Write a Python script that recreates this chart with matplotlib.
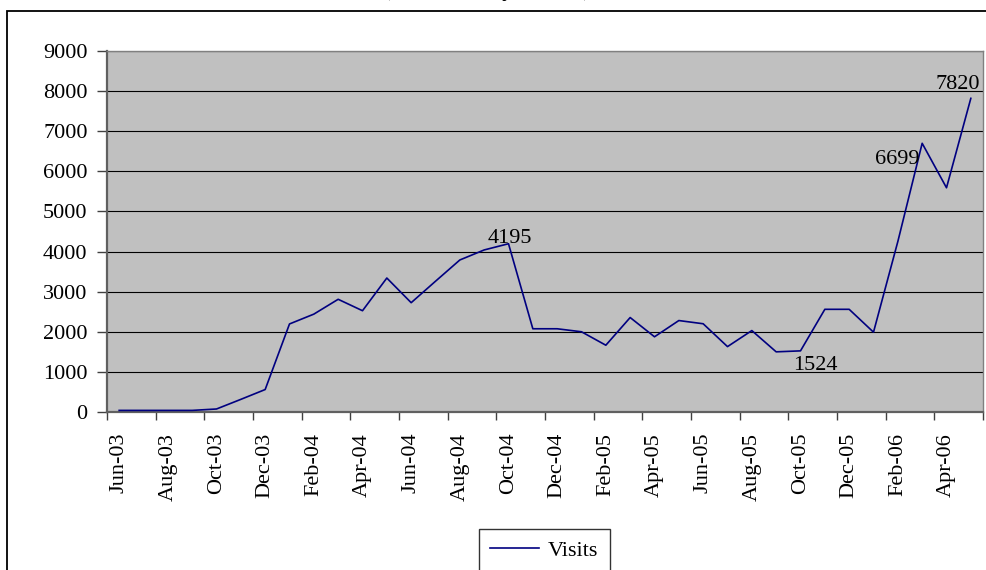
import matplotlib
matplotlib.use("Agg")
import matplotlib.pyplot as plt
from matplotlib.patches import Rectangle

months = ["Jun-03", "Jul-03", "Aug-03", "Sep-03", "Oct-03", "Nov-03", "Dec-03",
          "Jan-04", "Feb-04", "Mar-04", "Apr-04", "May-04", "Jun-04", "Jul-04",
          "Aug-04", "Sep-04", "Oct-04", "Nov-04", "Dec-04",
          "Jan-05", "Feb-05", "Mar-05", "Apr-05", "May-05", "Jun-05", "Jul-05",
          "Aug-05", "Sep-05", "Oct-05", "Nov-05", "Dec-05",
          "Jan-06", "Feb-06", "Mar-06", "Apr-06", "May-06"]
visits = [40, 40, 40, 40, 75, 315, 560,
          2195, 2440, 2810, 2525, 3340, 2725, 3260,
          3790, 4040, 4195, 2075, 2075,
          2000, 1665, 2355, 1875, 2280, 2200, 1630,
          2030, 1500, 1524, 2560, 2560,
          1990, 4250, 6699, 5590, 7820]
yticks = [0, 1000, 2000, 3000, 4000, 5000, 6000, 7000, 8000, 9000]
labelled = {"Oct-04": "4195", "Oct-05": "1524", "Mar-06": "6699", "May-06": "7820"}

W, H = 987, 570
fig = plt.figure(figsize=(W / 100, H / 100), dpi=100)
plt.rcParams['font.family'] = ['Liberation Serif', 'DejaVu Serif']
FS = 16

# outer chart-area border
fig.patches.append(Rectangle((7 / W, -0.05), 1.05, (570 - 11) / H + 0.05,
                             transform=fig.transFigure, fill=False,
                             edgecolor='black', linewidth=1.3))

# title, cut off at the very top as in the reference
fig.text(487 / W, 1 - 1 / H, "(Site Visits by Month)", ha='center', va='bottom',
         fontsize=FS, fontweight='bold')

left, right, top, bottom = 107, 983, 51, 412
ax = fig.add_axes([left / W, 1 - bottom / H, (right - left) / W, (bottom - top) / H])
ax.set_facecolor('#C0C0C0')

x = list(range(len(months)))
ax.plot(x, visits, color='#000080', linewidth=1.2, label='Visits', zorder=3)

ax.set_xlim(-0.5, len(months) - 0.5)
ax.set_ylim(0, 9000)
ax.set_yticks(yticks)
ax.set_yticklabels([str(v) for v in yticks], fontsize=FS)
ax.yaxis.grid(True, color='black', linewidth=0.8)
ax.set_axisbelow(True)

# ticks at category boundaries every 2 months, labels at category centres
ax.set_xticks([i - 0.5 for i in range(0, len(months) + 1, 2)])
ax.set_xticklabels([])
ax.set_xticks(x[::2], minor=True)
ax.set_xticklabels(months[::2], minor=True, rotation=90, fontsize=FS)
ax.tick_params(axis='x', which='major', length=6, width=1, direction='out', color='#404040')
ax.tick_params(axis='x', which='minor', length=0, pad=15)
ax.tick_params(axis='y', length=7, width=1, direction='out', pad=7, color='#404040')

for s in ['left', 'bottom']:
    ax.spines[s].set_color('#606060')
    ax.spines[s].set_linewidth(1.6)
for s in ['top', 'right']:
    ax.spines[s].set_color('#808080')
    ax.spines[s].set_linewidth(1.0)

offsets = {"Oct-04": (1, 1, 'center'), "May-06": (-13, 9, 'center'),
           "Mar-06": (-3, -21, 'right'), "Oct-05": (-7, -19, 'left')}
for m, txt in labelled.items():
    i = months.index(m)
    dx, dy, ha = offsets[m]
    ax.annotate(txt, (i, visits[i]), xytext=(dx, dy), textcoords='offset pixels',
                ha=ha, va='baseline', fontsize=FS, zorder=4)

leg = fig.legend(loc='upper center', bbox_to_anchor=(544.5 / W, 1 - 529 / H),
                 fontsize=FS, frameon=True, fancybox=False, edgecolor='black',
                 handlelength=2.2, borderpad=0.5, handletextpad=0.4,
                 borderaxespad=0)
leg.get_frame().set_linewidth(1.0)

fig.savefig("out.png", dpi=100)
